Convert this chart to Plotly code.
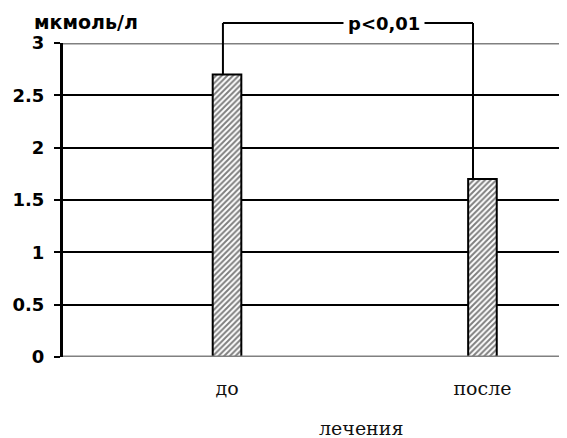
import plotly.graph_objects as go

categories = ["до", "после"]
values = [2.7, 1.7]
y_ticks = [0, 0.5, 1, 1.5, 2, 2.5, 3]
y_tick_labels = ["0", "0.5", "1", "1.5", "2", "2.5", "3"]
y_unit = "мкмоль/л"
x_title = "лечения"
p_label = "p<0,01"

x_pos = list(range(len(categories)))
ymax = 3.0
PLOT_W, PLOT_H = 505, 314

fig = go.Figure()
fig.add_trace(go.Bar(
    x=x_pos, y=values, width=0.112,
    marker=dict(color="white", line=dict(color="black", width=2),
                pattern=dict(shape="/", fgcolor="black", bgcolor="white", size=4, solidity=0.5)),
    showlegend=False,
))

sans_bold = dict(family="DejaVu Sans", size=18, color="black", weight="bold")
serif_font = dict(family="DejaVu Serif", size=19, color="#111111")

fig.update_layout(
    width=559, height=430,
    margin=dict(l=54, r=0, t=35, b=81, autoexpand=False),
    plot_bgcolor="white", paper_bgcolor="white",
    xaxis=dict(range=[-0.646, 1.331], tickvals=x_pos, ticktext=categories,
               tickfont=serif_font, showgrid=False, zeroline=False, showline=False,
               ticks="", ticklabelstandoff=18, automargin=False),
    yaxis=dict(range=[0, ymax], tickvals=y_ticks, ticktext=y_tick_labels,
               tickfont=sans_bold, automargin=False,
               showgrid=True, gridcolor="black", gridwidth=2,
               zeroline=False, showline=True, linecolor="black", linewidth=2,
               ticks="outside", ticklen=6, tickwidth=2, tickcolor="black",
               ticklabelstandoff=6),
)

# gray top and bottom gridlines
for yv in [0, ymax]:
    fig.add_shape(type="line", xref="paper", yref="y", x0=0, x1=1, y0=yv, y1=yv,
                  line=dict(color="#808080", width=3), layer="above")
# redraw axis line over gray lines
fig.add_shape(type="line", xref="paper", yref="paper", x0=0, x1=0, y0=0, y1=1,
              line=dict(color="black", width=2))

# significance bracket
top_paper = 1 + 20 / PLOT_H
offsets = [-0.016, -0.037]
for xi, v, off in zip(x_pos, values, offsets):
    fig.add_shape(type="line", xref="x", yref="paper", x0=xi + off, x1=xi + off,
                  y0=v / ymax, y1=top_paper, line=dict(color="black", width=2))
fig.add_shape(type="line", xref="x", yref="paper", x0=x_pos[0] + offsets[0], x1=x_pos[1] + offsets[1],
              y0=top_paper, y1=top_paper, line=dict(color="black", width=2))
fig.add_annotation(x=0.614, xref="x", y=top_paper, yref="paper",
                   text=p_label, showarrow=False, bgcolor="white", borderpad=4,
                   xanchor="center", yanchor="middle", font=sans_bold)

# unit label
fig.add_annotation(x=-30 / PLOT_W, xref="paper", y=1 + 21 / PLOT_H, yref="paper",
                   text=y_unit, showarrow=False, xanchor="left", yanchor="middle",
                   font=dict(family="DejaVu Sans", size=19, color="black", weight="bold"))

# x axis title
fig.add_annotation(x=(361 - 62) / PLOT_W, xref="paper", y=-(428 - 357) / PLOT_H, yref="paper",
                   text=x_title, showarrow=False, xanchor="center", yanchor="middle",
                   font=serif_font)

fig.write_html("out.html")
